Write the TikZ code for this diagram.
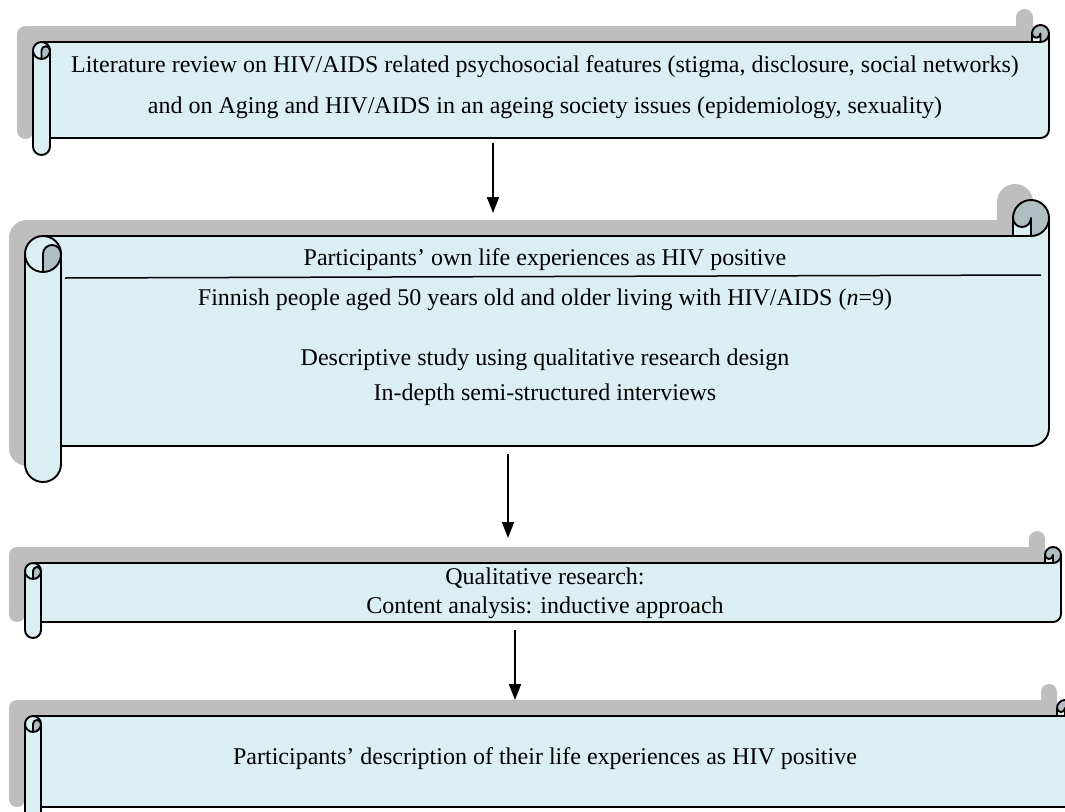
\documentclass[tikz,border=0pt]{standalone}
\usepackage{fontspec}
\setmainfont{Liberation Serif}
\usetikzlibrary{arrows.meta}
\definecolor{scrollfill}{HTML}{DBEEF4}
\definecolor{scrolldark}{HTML}{AFBEC3}
\definecolor{scrollshadow}{HTML}{BEBEBE}
\tikzset{
  scrollline/.style={draw=black,line width=1.9pt,line join=round},
  sepline/.style={draw=black,line width=1.5pt},
  txt/.style={anchor=base,inner sep=0pt,font=\fontsize{24}{29}\selectfont},
  flowarrow/.style={draw=black,line width=1.9pt,-{Triangle[length=16pt,width=12pt]}}
}
\newcommand\hscroll[5]{%
  \pgfmathsetmacro\scL{#1}%
  \pgfmathsetmacro\scT{#2}%
  \pgfmathsetmacro\scR{#3}%
  \pgfmathsetmacro\scB{#4}%
  \pgfmathsetmacro\scC{#5}%
  \pgfmathsetmacro\scH{#5/2}%
  \pgfmathsetmacro\scQ{#5/4}%
  \pgfmathsetmacro\scYa{\scT+\scC}%
  \pgfmathsetmacro\scYb{\scT+1.5*\scC}%
  \pgfmathsetmacro\scYc{\scT+2*\scC}%
  \pgfmathsetmacro\scYd{\scT+\scH}%
  \pgfmathsetmacro\scYe{\scB-\scC}%
  \pgfmathsetmacro\scYf{\scB-1.5*\scC}%
  \pgfmathsetmacro\scYg{\scB-\scH}%
  \pgfmathsetmacro\scXa{\scL+\scH}%
  \pgfmathsetmacro\scXb{\scL+\scC}%
  \pgfmathsetmacro\scXc{\scR-\scC}%
  \pgfmathsetmacro\scXd{\scR-\scH}%
  \def\scOutline{(\scL,\scYb) arc[start angle=180,end angle=270,radius=\scH] -- (\scXc,\scYa) -- (\scXc,\scYd) arc[start angle=180,end angle=360,radius=\scH] -- (\scR,\scYf) arc[start angle=0,end angle=90,radius=\scH] -- (\scXb,\scYe) -- (\scXb,\scYg) arc[start angle=0,end angle=180,radius=\scH] -- cycle}%
  \fill[scrollshadow,shift={(-16,-16)}] \scOutline;
  \fill[scrollfill] \scOutline;
  \fill[scrolldark] (\scXa,\scYc) arc[start angle=90,end angle=0,radius=\scH] arc[start angle=0,end angle=-180,radius=\scQ] -- cycle;
  \fill[scrolldark] (\scXd,\scYa) arc[start angle=90,end angle=-180,radius=\scH] arc[start angle=180,end angle=0,radius=\scQ] -- cycle;
  \draw[scrollline] \scOutline;
  \draw[scrollline] (\scXc,\scYa) -- (\scXd,\scYa) arc[start angle=90,end angle=0,radius=\scH];
  \draw[scrollline] (\scXd,\scYa) -- (\scXd,\scYd) arc[start angle=0,end angle=180,radius=\scQ];
  \draw[scrollline] (\scXa,\scYc) -- (\scXa,\scYb) arc[start angle=180,end angle=360,radius=\scQ] arc[start angle=0,end angle=180,radius=\scH];
  \draw[scrollline] (\scXa,\scYa) arc[start angle=270,end angle=360,radius=\scH];
  \draw[scrollline] (\scXb,\scYb) -- (\scXb,\scYe);
}
\begin{document}
\begin{tikzpicture}[x=1pt,y=-1pt]
\useasboundingbox (0,0) rectangle (1065,811);
\clip (0,0) rectangle (1065,811);
\fill[white] (0,0) rectangle (1065,811);
% scrolls
\hscroll{33}{25}{1049}{155}{17}
\hscroll{25}{200}{1049}{482}{36}
\hscroll{25}{547}{1061}{638}{16}
\hscroll{25}{700}{1073}{823}{16}
% texts
\node[txt] (lit1) at (545,72) {Literature review on HIV/AIDS related psychosocial features (stigma, disclosure, social networks)};
\node[txt] (lit2) at (545,113) {and on Aging and HIV/AIDS in an ageing society issues (epidemiology, sexuality)};
\node[txt] (part1) at (545,265) {Participants’ own life experiences as HIV positive};
\coordinate (sepA) at (65,278);
\coordinate (sepB) at (1041,275);
\draw[sepline] (sepA) -- (sepB);
\node[txt] (part2) at (545,305) {Finnish people aged 50 years old and older living with HIV/AIDS (\textit{n}=9)};
\node[txt] (desc1) at (545,365) {Descriptive study using qualitative research design};
\node[txt] (desc2) at (545,400) {In-depth semi-structured interviews};
\node[txt] (qual1) at (545,584) {Qualitative research:};
\node[txt] (qual2) at (545,613) {Content analysis: inductive approach};
\node[txt] (res1) at (545,764) {Participants’ description of their life experiences as HIV positive};
% arrows
\coordinate (a1s) at (493,143);
\coordinate (a1e) at (493,213);
\coordinate (a2s) at (508,454);
\coordinate (a2e) at (508,538);
\coordinate (a3s) at (515,630);
\coordinate (a3e) at (515,700);
\draw[flowarrow] (a1s) -- (a1e);
\draw[flowarrow] (a2s) -- (a2e);
\draw[flowarrow] (a3s) -- (a3e);
\end{tikzpicture}
\end{document}
